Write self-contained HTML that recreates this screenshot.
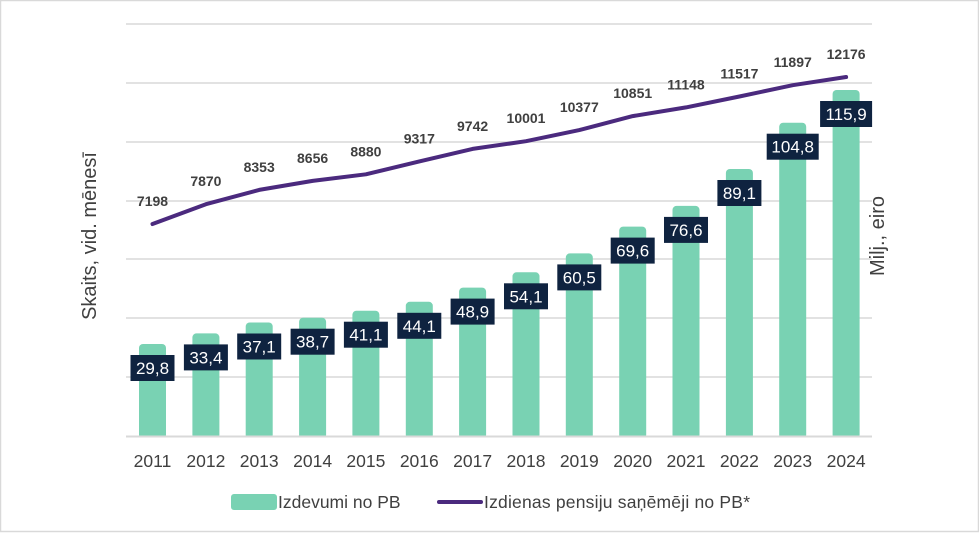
<!DOCTYPE html>
<html><head><meta charset="utf-8"><style>
html,body{margin:0;padding:0;background:#fff}
svg{display:block;font-family:"Liberation Sans",sans-serif}
</style></head><body>
<svg width="979" height="533" viewBox="0 0 979 533" xmlns="http://www.w3.org/2000/svg">
<rect x="0.5" y="0.5" width="978" height="531" fill="#fff" stroke="#d9d9d9" stroke-width="1.5"/>
<g stroke="#d9d9d9" stroke-width="1.5">
<line x1="126" x2="872" y1="24" y2="24"/>
<line x1="126" x2="872" y1="83" y2="83"/>
<line x1="126" x2="872" y1="142" y2="142"/>
<line x1="126" x2="872" y1="201" y2="201"/>
<line x1="126" x2="872" y1="259" y2="259"/>
<line x1="126" x2="872" y1="318" y2="318"/>
<line x1="126" x2="872" y1="377" y2="377"/>
</g>
<g fill="#79d2b3">
<rect x="139" y="344" width="27" height="95" rx="4"/>
<rect x="192.4" y="333.4" width="27" height="105.6" rx="4"/>
<rect x="245.7" y="322.5" width="27" height="116.5" rx="4"/>
<rect x="299.1" y="317.7" width="27" height="121.3" rx="4"/>
<rect x="352.4" y="310.7" width="27" height="128.3" rx="4"/>
<rect x="405.8" y="301.8" width="27" height="137.2" rx="4"/>
<rect x="459.1" y="287.6" width="27" height="151.4" rx="4"/>
<rect x="512.5" y="272.3" width="27" height="166.7" rx="4"/>
<rect x="565.8" y="253.4" width="27" height="185.6" rx="4"/>
<rect x="619.2" y="226.6" width="27" height="212.4" rx="4"/>
<rect x="672.5" y="205.9" width="27" height="233.1" rx="4"/>
<rect x="725.9" y="169" width="27" height="270" rx="4"/>
<rect x="779.2" y="122.7" width="27" height="316.3" rx="4"/>
<rect x="832.6" y="90" width="27" height="349" rx="4"/>
</g>
<rect x="126" y="437" width="746" height="4" fill="#fff"/>
<line x1="126" x2="872" y1="436.5" y2="436.5" stroke="#d9d9d9" stroke-width="2"/>
<g fill="#0f2340">
<rect x="130.5" y="355" width="44" height="26"/>
<rect x="183.9" y="344.4" width="44" height="26"/>
<rect x="237.2" y="333.5" width="44" height="26"/>
<rect x="290.6" y="328.7" width="44" height="26"/>
<rect x="343.9" y="321.7" width="44" height="26"/>
<rect x="397.3" y="312.8" width="44" height="26"/>
<rect x="450.6" y="298.6" width="44" height="26"/>
<rect x="504" y="283.3" width="44" height="26"/>
<rect x="557.3" y="264.4" width="44" height="26"/>
<rect x="610.7" y="237.6" width="44" height="26"/>
<rect x="664" y="216.9" width="44" height="26"/>
<rect x="717.4" y="180" width="44" height="26"/>
<rect x="766.7" y="133.7" width="52" height="26"/>
<rect x="820.1" y="101" width="52" height="26"/>
</g>
<g fill="#fff" font-size="17" text-anchor="middle">
<text x="152.5" y="374">29,8</text>
<text x="205.9" y="363.4">33,4</text>
<text x="259.2" y="352.5">37,1</text>
<text x="312.6" y="347.7">38,7</text>
<text x="365.9" y="340.7">41,1</text>
<text x="419.3" y="331.8">44,1</text>
<text x="472.6" y="317.6">48,9</text>
<text x="526" y="302.3">54,1</text>
<text x="579.3" y="283.4">60,5</text>
<text x="632.7" y="256.6">69,6</text>
<text x="686" y="235.9">76,6</text>
<text x="739.4" y="199">89,1</text>
<text x="792.7" y="152.7">104,8</text>
<text x="846.1" y="120">115,9</text>
</g>
<polyline fill="none" stroke="#4b2a7e" stroke-width="4" stroke-linecap="round" stroke-linejoin="round"
points="152.5,224 205.9,204.2 259.2,189.9 312.6,180.9 365.9,174.3 419.3,161.4 472.6,148.9 526,141.2 579.3,130.1 632.7,116.1 686,107.4 739.4,96.5 792.7,85.2 846.1,77"/>
<g fill="#404040" font-size="14" font-weight="bold" text-anchor="middle">
<text x="152.5" y="206">7198</text>
<text x="205.9" y="186.2">7870</text>
<text x="259.2" y="171.9">8353</text>
<text x="312.6" y="162.9">8656</text>
<text x="365.9" y="156.3">8880</text>
<text x="419.3" y="143.4">9317</text>
<text x="472.6" y="130.9">9742</text>
<text x="526" y="123.2">10001</text>
<text x="579.3" y="112.1">10377</text>
<text x="632.7" y="98.1">10851</text>
<text x="686" y="89.4">11148</text>
<text x="739.4" y="78.5">11517</text>
<text x="792.7" y="67.2">11897</text>
<text x="846.1" y="59">12176</text>
</g>
<g fill="#404040" font-size="17.5" text-anchor="middle">
<text x="152.5" y="467">2011</text>
<text x="205.9" y="467">2012</text>
<text x="259.2" y="467">2013</text>
<text x="312.6" y="467">2014</text>
<text x="365.9" y="467">2015</text>
<text x="419.3" y="467">2016</text>
<text x="472.6" y="467">2017</text>
<text x="526" y="467">2018</text>
<text x="579.3" y="467">2019</text>
<text x="632.7" y="467">2020</text>
<text x="686" y="467">2021</text>
<text x="739.4" y="467">2022</text>
<text x="792.7" y="467">2023</text>
<text x="846.1" y="467">2024</text>
</g>
<text transform="translate(96,236) rotate(-90)" fill="#404040" font-size="20" text-anchor="middle">Skaits, vid. mēnesī</text>
<text transform="translate(884,236) rotate(-90)" fill="#404040" font-size="20" text-anchor="middle">Milj., eiro</text>
<rect x="231" y="494" width="46" height="16" rx="3" fill="#79d2b3"/>
<text x="278" y="508" fill="#404040" font-size="17.5">Izdevumi no PB</text>
<line x1="439" x2="481" y1="502" y2="502" stroke="#4b2a7e" stroke-width="4" stroke-linecap="round"/>
<text x="484" y="508" fill="#404040" font-size="17.5" textLength="266">Izdienas pensiju saņēmēji no PB*</text>
</svg>
</body></html>
